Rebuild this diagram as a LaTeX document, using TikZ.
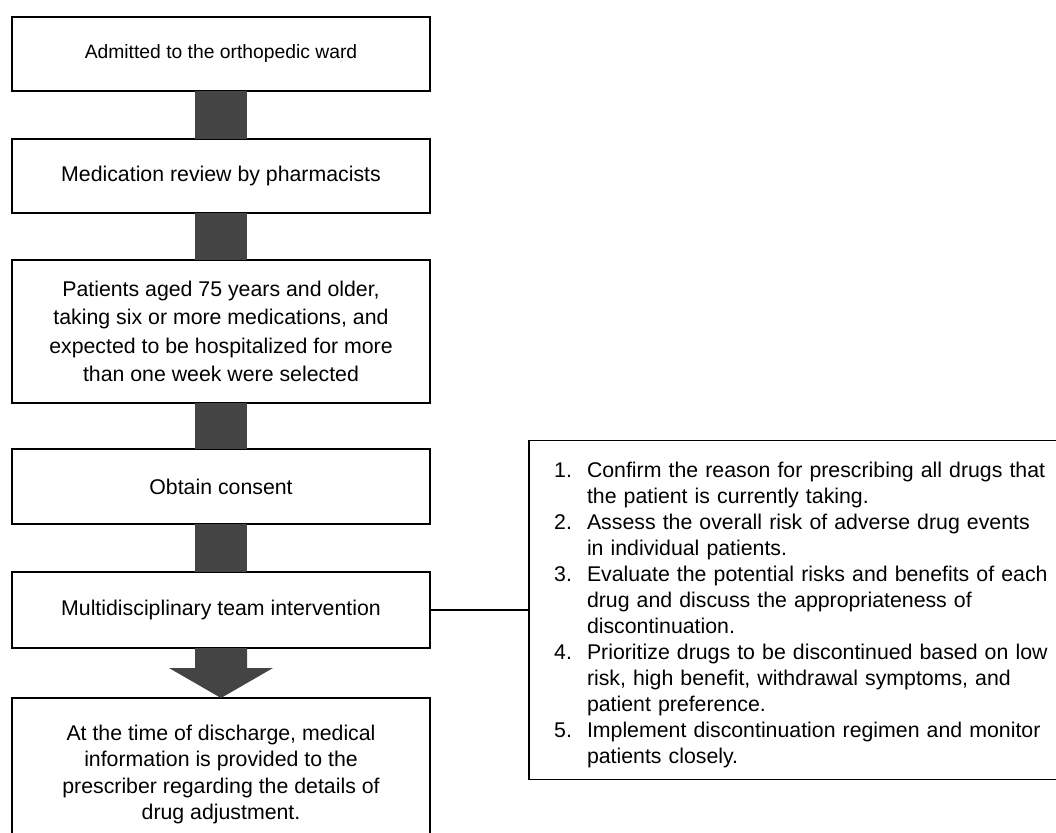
\documentclass[tikz,border=0pt]{standalone}
\usepackage{fontspec}
\setmainfont{Liberation Sans}
\usepackage{xcolor}
\usetikzlibrary{positioning}
\definecolor{bargray}{HTML}{444444}

\begin{document}
\begin{tikzpicture}[
    x=1pt, y=1pt,
    flowbox/.style={
      draw,
      line width=1.6pt,
      outer sep=0pt,
      minimum width=418pt,
      minimum height=75pt,
      inner sep=0pt,
      align=center,
      font=\fontsize{21.3}{26}\selectfont
    },
    bar/.style={fill=bargray},
    link/.style={draw, line width=1.4pt}
  ]
  \useasboundingbox (0,0) rectangle (1056,-832);
  \clip (0,0) rectangle (1056,-832);
  \node[flowbox, minimum height=74pt, font=\fontsize{19.3}{24}\selectfont] (admit) at (221,-54) {Admitted to the orthopedic ward};
  \node[flowbox, minimum height=74pt, below=48pt of admit] (review) {Medication review by pharmacists};
  \node[
    flowbox,
    minimum height=143pt,
    font=\fontsize{21.3}{28.3}\selectfont,
    below=47pt of review
  ] (select) {Patients aged 75 years and older,\\taking six or more medications, and\\expected to be hospitalized for more\\than one week were selected};
  \node[flowbox, below=46pt of select] (consent) {Obtain consent};
  \node[flowbox, minimum height=76pt, below=48pt of consent] (team) {Multidisciplinary team intervention};
  \node[
    flowbox,
    minimum height=153pt,
    font=\fontsize{21.3}{26.4}\selectfont,
    below=50pt of team
  ] (discharge) {At the time of discharge, medical\\information is provided to the\\prescriber regarding the details of\\drug adjustment.};
  \node[
    draw,
    line width=1.6pt,
    outer sep=0pt,
    minimum height=339pt,
    text width=535pt,
    inner sep=0pt,
    align=left,
    font=\fontsize{21.3}{26}\selectfont,
    right=99pt of team
  ] (steps) {\begin{list}{\arabic{enumi}.}{\usecounter{enumi}%
      \setlength{\leftmargin}{58pt}\setlength{\labelwidth}{24pt}%
      \setlength{\labelsep}{15pt}\setlength{\topsep}{0pt}%
      \setlength{\partopsep}{0pt}\setlength{\itemsep}{0pt}%
      \setlength{\parsep}{0pt}}
    \item Confirm the reason for prescribing all drugs that\\the patient is currently taking.
    \item Assess the overall risk of adverse drug events\\in individual patients.
    \item Evaluate the potential risks and benefits of each\\drug and discuss the appropriateness of\\discontinuation.
    \item Prioritize drugs to be discontinued based on low\\risk, high benefit, withdrawal symptoms, and\\patient preference.
    \item Implement discontinuation regimen and monitor\\patients closely.
  \end{list}};
  \foreach \a/\b in {admit/review, review/select, select/consent, consent/team}
    \fill[bar] ([xshift=-26]\a.south) rectangle ([xshift=26]\b.north);
  \fill[bar] ([xshift=-26]team.south) -- ++(0,-20) -- ++(-26,0)
    -- (discharge.north) -- ++(52,30) -- ++(-26,0) -- ([xshift=26]team.south) -- cycle;
  \draw[link] (team.east) -- (steps.west);
\end{tikzpicture}
\end{document}
